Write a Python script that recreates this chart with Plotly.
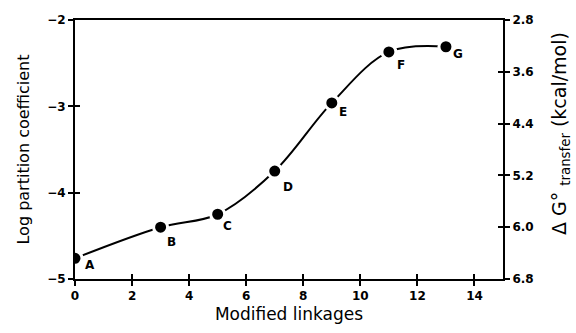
import plotly.graph_objects as go

# Data
linkages = [0, 3, 5, 7, 9, 11, 13]
log_pc = [-4.76, -4.40, -4.25, -3.75, -2.96, -2.37, -2.31]
point_labels = ["A", "B", "C", "D", "E", "F", "G"]
x_ticks = [0, 2, 4, 6, 8, 10, 12, 14]
y_ticks = [-2, -3, -4, -5]
dg_ticks = [2.8, 3.6, 4.4, 5.2, 6.0, 6.8]

label_offsets = [(15, -7), (11, -15), (10, -12), (13, -16), (11, -9), (12, -13), (12, -7)]

FONT = "DejaVu Sans"
tickfont = dict(family=FONT, size=12, color="black", weight="bold")

fig = go.Figure()
fig.add_trace(go.Scatter(
    x=linkages, y=log_pc, mode="lines+markers",
    line=dict(color="black", width=2, shape="spline", smoothing=1.0),
    marker=dict(color="black", size=14, line=dict(color="white", width=3)),
    showlegend=False, hoverinfo="skip",
))
# empty traces so that the secondary/tick-duplicate axes get drawn
for xa, ya in [("x", "y2"), ("x3", "y3"), ("x", "y4")]:
    fig.add_trace(go.Scatter(x=[], y=[], xaxis=xa, yaxis=ya, showlegend=False, hoverinfo="skip"))

annotations = []
for xv, yv, lab, (dx, dy) in zip(linkages, log_pc, point_labels, label_offsets):
    annotations.append(dict(x=xv, y=yv, xref="x", yref="y", text=lab, showarrow=False,
                            xshift=dx, yshift=dy,
                            font=dict(family=FONT, size=12, color="black", weight="bold")))

annotations.append(dict(
    x=1.0, xref="paper", xanchor="center", xshift=58,
    y=0.56, yref="paper", yanchor="middle",
    text="\u0394 G\u00b0 <sub>transfer</sub> (kcal/mol)", textangle=-90, showarrow=False,
    font=dict(family=FONT, size=19, color="black"),
))

axis_common = dict(showgrid=False, zeroline=False, linecolor="black", linewidth=2,
                   tickcolor="black", tickwidth=1.5, ticklen=5)

fig.update_layout(
    width=576, height=333,
    margin=dict(l=75, r=73, t=20, b=46),
    paper_bgcolor="white", plot_bgcolor="white",
    xaxis=dict(range=[0, 15], tickvals=x_ticks, ticks="outside", showline=True, mirror=True,
               tickfont=tickfont,
               title=dict(text="Modified linkages", font=dict(family=FONT, size=17, color="black"), standoff=6),
               **axis_common),
    yaxis=dict(range=[-5, -2], tickvals=y_ticks, ticks="outside", showline=True,
               tickfont=tickfont,
               title=dict(text="Log partition coefficient", font=dict(family=FONT, size=16, color="black"), standoff=14),
               **axis_common),
    yaxis2=dict(range=[6.8, 2.8], tickvals=dg_ticks, ticktext=[f"{v:.1f}" for v in dg_ticks],
                overlaying="y", side="right", anchor="x", ticks="outside", showline=True,
                tickfont=tickfont, **axis_common),
    xaxis3=dict(range=[0, 15], tickvals=x_ticks, ticks="inside", showticklabels=False,
                overlaying="x", anchor="y", showline=False, **axis_common),
    yaxis3=dict(range=[-5, -2], tickvals=y_ticks, ticks="inside", showticklabels=False,
                overlaying="y", anchor="x", side="left", showline=False, **axis_common),
    yaxis4=dict(range=[6.8, 2.8], tickvals=dg_ticks, ticks="inside", showticklabels=False,
                overlaying="y", anchor="x", side="right", showline=False, **axis_common),
    annotations=annotations,
)

fig.write_html("out.html")
